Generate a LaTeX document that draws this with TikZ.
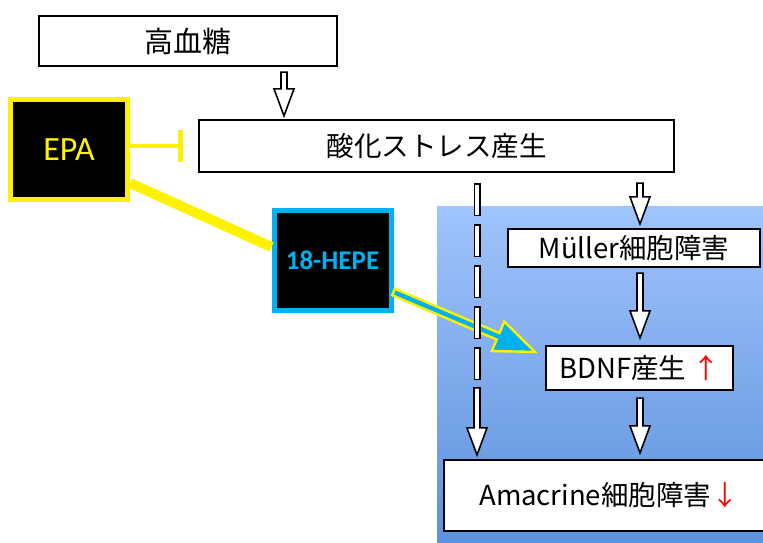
\documentclass[tikz,border=0pt]{standalone}
\usepackage{fontspec}
\setmainfont{Carlito}
\newfontfamily\jpfont{Noto Sans CJK JP}
\usepackage{xcolor}
\usepackage{tikz}
\usetikzlibrary{arrows.meta, positioning, calc}

\definecolor{hepeblue}{RGB}{0,176,240}
\definecolor{paneltop}{RGB}{160,196,252}
\definecolor{panelbottom}{RGB}{92,144,220}

\newcommand{\blockarrow}[2]{%
  \draw[hollow] let \p1=(#1), \p2=(#2) in
    (\x1-3pt,\y1) -- (\x1-3pt,\y2+27pt) -- (\x1-10pt,\y2+27pt) -- (\x1,\y2)
    -- (\x1+10pt,\y2+27pt) -- (\x1+3pt,\y2+27pt) -- (\x1+3pt,\y1) -- cycle;}

\begin{document}
\begin{tikzpicture}[
  x=1pt, y=-1pt,
  box/.style={rectangle, draw=black, line width=2.2pt, fill=white, text centered,
              inner sep=0pt, font=\jpfont\fontsize{27.5}{32}\selectfont},
  agent/.style={rectangle, fill=black, line width=5pt, inner sep=0pt,
                minimum width=117pt, minimum height=100pt},
  hollow/.style={draw=black, fill=white, line width=1.6pt, line join=miter},
  inhibit/.style={draw=yellow, line width=4.5pt, -{Bar[width=32pt, line width=5pt]}},
  fat/.style={draw=yellow, fill=hepeblue, line width=2.4pt, line join=miter}
]
\useasboundingbox (0,0) rectangle (763,543);
\clip (0,0) rectangle (763,543);

\shade[top color=paneltop, bottom color=panelbottom] (437,206) rectangle (775,550);

\node[box, minimum width=298pt, minimum height=50pt, font=\jpfont\fontsize{29}{33}\selectfont] (hyper) at (188,41) {高血糖};
\node[box, minimum width=475pt, minimum height=52pt] (sanka) at (436.5,146) {酸化ストレス産生};
\node[agent, draw=yellow, text=yellow, font=\fontsize{34}{40}\selectfont] (epa) at (69,149.5) {EPA};
\node[agent, draw=hepeblue, text=hepeblue, font=\bfseries\fontsize{27}{32}\selectfont] (hepe) at (332.5,260.5) {18-HEPE};
\node[box, minimum width=252pt, minimum height=38pt] (muller) at (634,248) {Müller細胞障害};
\node[box, minimum width=187pt, minimum height=44pt] (bdnf) at (639.5,368) {BDNF産生 {\color{red}↑}};
\node[box, minimum width=330pt, minimum height=71pt] (amacrine) at (609,495.5) {Amacrine細胞障害{\color{red}↓}};

\coordinate (colH) at (284,0);
\coordinate (colA) at (477,0);
\coordinate (colB) at (640,0);

\draw[inhibit] (epa.east |- sanka.west) -- ($(sanka.west)+(-15,0)$);
\draw[yellow, line width=10pt] (epa.east |- 0,183) -- (hepe.west |- 0,247);

\coordinate (fa0) at (hepe.east |- 0,292);
\coordinate (fa1) at ($(bdnf.north west)+(-10,7)$);
\coordinate (fab) at ($(fa1)!40pt!(fa0)$);
\draw[fat] ($(fa0)!3.5pt!90:(fa1)$) -- ($(fab)!3.5pt!90:(fa1)$) -- ($(fab)!16pt!90:(fa1)$) -- (fa1)
  -- ($(fab)!16pt!-90:(fa1)$) -- ($(fab)!3.5pt!-90:(fa1)$) -- ($(fa0)!3.5pt!-90:(fa1)$) -- cycle;

\draw[line width=7pt, dash pattern=on 33pt off 8pt] ($(sanka.south -| colA)+(0,10)$) -- ($(amacrine.north -| colA)+(0,-79)$);
\draw[white, line width=4pt, dash pattern=on 30pt off 11pt] ($(sanka.south -| colA)+(0,11.5)$) -- ($(amacrine.north -| colA)+(0,-79)$);
\blockarrow{$(amacrine.north -| colA)+(0,-71)$}{$(amacrine.north -| colA)+(0,-4)$}

\blockarrow{$(hyper.south -| colH)+(0,5)$}{$(sanka.north -| colH)+(0,-3)$}
\blockarrow{$(sanka.south -| colB)+(0,10)$}{$(muller.north -| colB)+(0,-4)$}
\blockarrow{$(muller.south -| colB)+(0,5)$}{$(bdnf.north -| colB)+(0,-7)$}
\blockarrow{$(bdnf.south -| colB)+(0,7)$}{$(amacrine.north -| colB)+(0,-6)$}
\end{tikzpicture}
\end{document}
